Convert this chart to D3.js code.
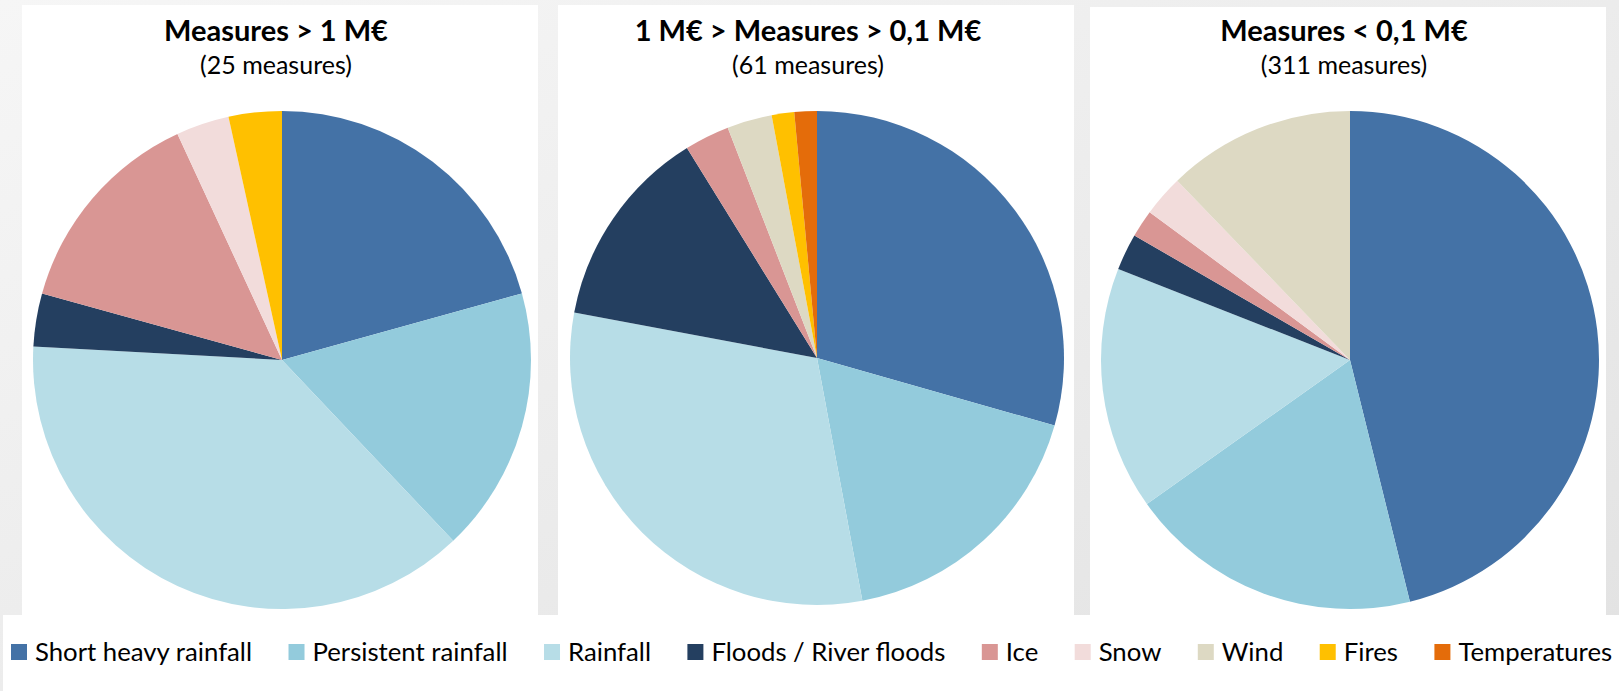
<!DOCTYPE html>
<html>
<head>
<meta charset="utf-8">
<script src="https://cdn.jsdelivr.net/npm/d3@7"></script>
<style>
  html, body { margin: 0; padding: 0; }
  body { width: 1619px; height: 691px; overflow: hidden; }
  svg { display: block; }
  text { font-family: Lato, "Open Sans", "Noto Sans", sans-serif; fill: #000; }
</style>
</head>
<body>
<svg id="chart" width="1619" height="691"></svg>
<script>
// ---- data ----
const categories = ["Short heavy rainfall", "Persistent rainfall", "Rainfall", "Floods / River floods",
                    "Ice", "Snow", "Wind", "Fires", "Temperatures"];
const colors = ["#4472a6", "#93cbdc", "#b7dde7", "#243f60", "#d99694", "#f2dcdb", "#ddd9c3", "#ffc000", "#e46c0a"];
const titles = ["Measures > 1 M€", "1 M€ > Measures > 0,1 M€", "Measures < 0,1 M€"];
const subtitles = ["(25 measures)", "(61 measures)", "(311 measures)"];
const valuesLarge  = [6, 5, 11, 1, 4, 1, 0, 1, 0];
const valuesMedium = [20, 12, 21, 9, 2, 0, 2, 1, 1];
const valuesSmall  = [155, 64, 53, 8, 6, 9, 41, 0, 0];
const seriesList = [valuesLarge, valuesMedium, valuesSmall];

// ---- layout ----
const W = 1619, H = 691;
const svg = d3.select("#chart");
const defs = svg.append("defs");
const grad = defs.append("linearGradient").attr("id", "bg").attr("x1", "0").attr("y1", "0").attr("x2", "1").attr("y2", "1");
grad.append("stop").attr("offset", "0").attr("stop-color", "#f6f6f6");
grad.append("stop").attr("offset", "1").attr("stop-color", "#e2e2e2");
svg.append("rect").attr("width", W).attr("height", H).attr("fill", "url(#bg)");

const panels = [
  {x0: 22, x1: 538, y0: 5, cx: 282, cy: 360, r: 249, tx: 276},
  {x0: 558, x1: 1074, y0: 5, cx: 817, cy: 358, r: 247, tx: 808},
  {x0: 1090, x1: 1606, y0: 7, cx: 1350, cy: 360, r: 249, tx: 1344}
];
const panelBottom = 615;

// legend band
svg.append("rect").attr("x", 3).attr("y", panelBottom).attr("width", W - 3).attr("height", H - panelBottom).attr("fill", "#fff");

const pie = d3.pie().sort(null).value(d => d.v).startAngle(0).endAngle(2 * Math.PI);
const color = d3.scaleOrdinal().domain(categories).range(colors);

panels.forEach((p, i) => {
  const g = svg.append("g");
  g.append("rect").attr("x", p.x0).attr("y", p.y0).attr("width", p.x1 - p.x0).attr("height", panelBottom - p.y0).attr("fill", "#fff");
  g.append("text").attr("x", p.tx).attr("y", 41).attr("text-anchor", "middle")
    .attr("font-size", 29).attr("font-weight", 700).text(titles[i]);
  g.append("text").attr("x", p.tx).attr("y", 74).attr("text-anchor", "middle")
    .attr("font-size", 25).text(subtitles[i]);
  const data = categories.map((c, k) => ({c, v: seriesList[i][k]}));
  const arc = d3.arc().innerRadius(0).outerRadius(p.r);
  g.append("g").attr("transform", `translate(${p.cx},${p.cy})`)
    .selectAll("path").data(pie(data).filter(d => d.data.v > 0)).join("path")
    .attr("d", arc).attr("fill", d => color(d.data.c));
});

// legend
const leg = svg.append("g");
const fs = 26, sq = 16, gapSq = 8, gapItem = 37;
const items = leg.selectAll("g").data(categories).join("g");
items.append("rect").attr("width", sq).attr("height", sq).attr("y", -sq / 2).attr("fill", d => color(d));
items.append("text").attr("x", sq + gapSq).attr("y", 0).attr("dy", "0.35em").attr("font-size", fs).text(d => d);
// position items from measured widths, then fit the span 11..1612
const widths = [];
items.each(function() { widths.push(this.querySelector("text").getComputedTextLength()); });
let natural = 0;
const starts = [];
widths.forEach((w, k) => { starts.push(natural); natural += sq + gapSq + w + (k < widths.length - 1 ? gapItem : 0); });
const x = d3.scaleLinear().domain([0, natural]).range([11, 1612]);
const k = (1612 - 11) / natural;
items.attr("transform", (d, j) => `translate(${x(starts[j])},652)`);
items.select("text").attr("font-size", fs * k).attr("x", (sq + gapSq));
</script>
</body>
</html>
